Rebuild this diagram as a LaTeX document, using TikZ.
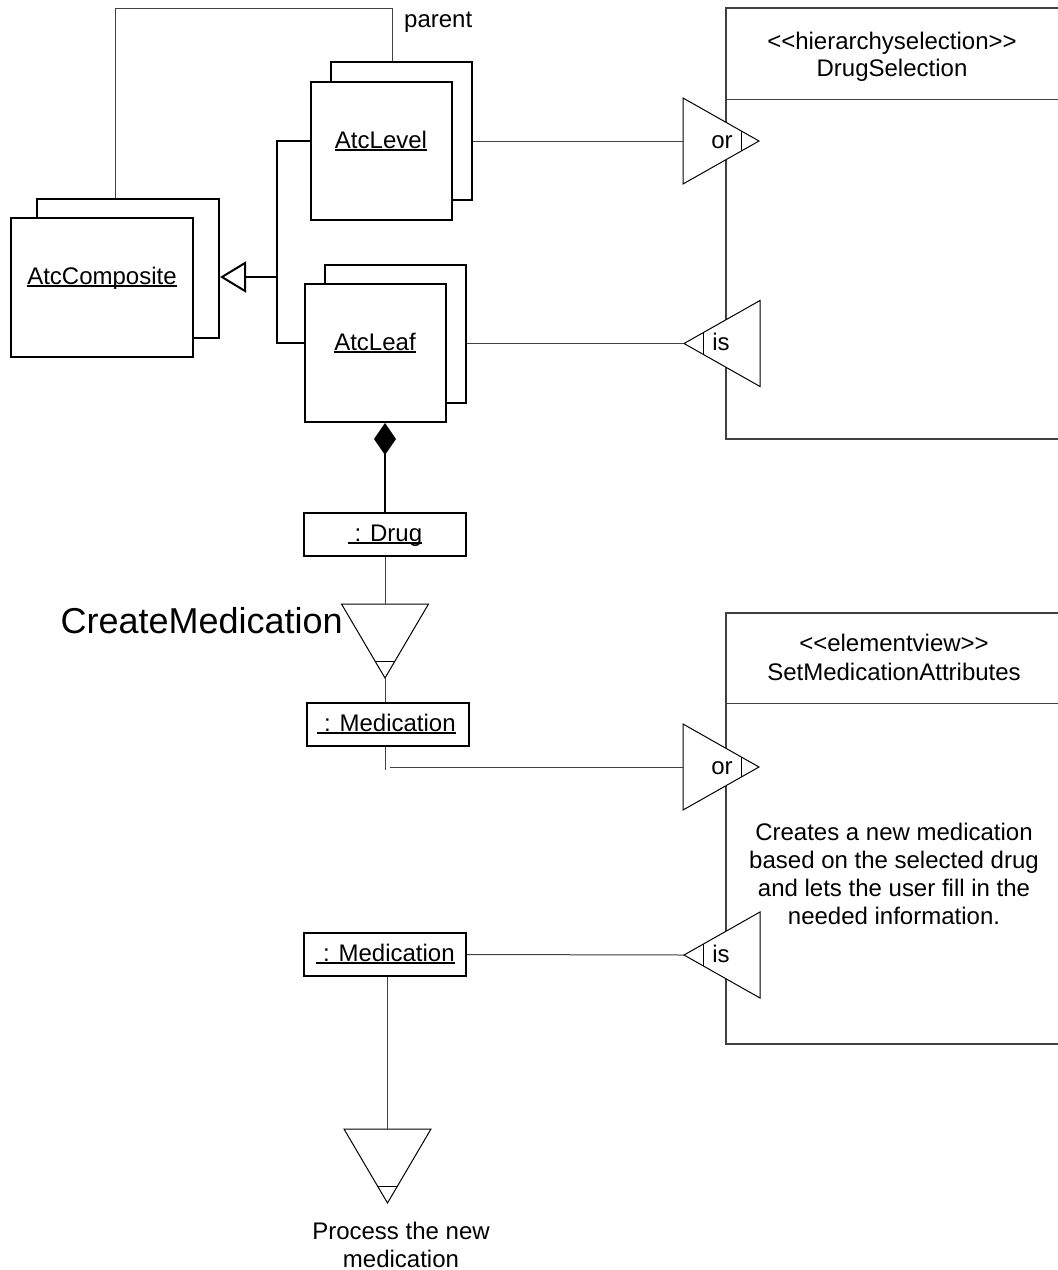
\documentclass[tikz,border=0pt]{standalone}
\usepackage{fontspec}
\setmainfont{Liberation Sans}
\usetikzlibrary{arrows.meta,calc}

% underline at a fixed depth below the baseline (crosses descenders)
\newcommand\ulin[1]{\setbox0=\hbox{#1}\rlap{\vrule height -1.4pt depth 2.6pt width \wd0}\box0}
% stereotype brackets written as two separate characters
\newcommand\stl{<\kern0pt<}
\newcommand\str{>\kern0pt>}

\tikzset{
  every node/.style={font=\fontsize{24}{28}\selectfont, inner sep=0pt, text=black},
  cls/.style={draw=black, line width=2pt, fill=white, minimum width=141pt, minimum height=138pt},
  obj/.style={draw=black, line width=2pt, fill=white, minimum width=162pt, minimum height=43pt},
  viewbox/.style={draw=black!75, line width=1.2pt, minimum width=336pt},
  conn/.style={draw=black!75, line width=1pt},
  heavy/.style={draw=black, line width=2pt},
  gate/.style={draw=black, line width=1pt, fill=white, line join=miter},
  gateline/.style={draw=black, line width=1pt},
  % "or" gate: flat side on the left, tip to the right
  pics/ortri/.style={code={
    \draw[gate] (0,-43) -- (76,0) -- (0,43) -- cycle;
    \draw[gateline] (58,-10.2) -- (58,10.2);
    \coordinate (-in) at (0,0);
    \node[anchor=base] (-lbl) at (39,7) {or};
  }},
  % "is" gate: tip on the left, flat side to the right
  pics/istri/.style={code={
    \draw[gate] (0,0) -- (76,-43) -- (76,43) -- cycle;
    \draw[gateline] (19,-10.75) -- (19,10.75);
    \coordinate (-tip) at (0,0);
    \node[anchor=base] (-lbl) at (37,7) {is};
  }},
  % downward triangle (operation)
  pics/downtri/.style={code={
    \draw[gate] (-43.5,0) -- (43.5,0) -- (0,74) -- cycle;
    \draw[gateline] (-10,57) -- (10,57);
    \coordinate (-top) at (0,0);
    \coordinate (-apex) at (0,74);
  }},
}

\begin{document}
\begin{tikzpicture}[x=1pt,y=-1pt]
\useasboundingbox (0,0) rectangle (1058,1270);

% ---- view boxes on the right ----
\node[viewbox, minimum height=431pt] (ds) at (894,223.5) {};
\draw[viewbox] ($(ds.north west)+(0,92)$) -- ($(ds.north east)+(0,92)$);
\node[anchor=base] (dsS) at (892,49) {\stl hierarchyselection\str};
\node[anchor=base] (dsN) at (892,76) {DrugSelection};

\node[viewbox, minimum height=431pt] (sma) at (894,828.5) {};
\draw[viewbox] ($(sma.north west)+(0,91)$) -- ($(sma.north east)+(0,91)$);
\node[anchor=base] (smaS) at (894,651) {\stl elementview\str};
\node[anchor=base] (smaN) at (894,680) {SetMedicationAttributes};
\node[align=center] (desc) at (894,873.5) {Creates a new medication\\based on the selected drug\\and lets the user fill in the\\needed information.};

% ---- class boxes (stacked, multi-object) ----
\node[cls, minimum width=182pt, minimum height=139pt] (compB) at (128,268.5) {};
\node[cls, minimum width=182pt, minimum height=139pt] (compF) at (102,287.5) {};
\node[anchor=base] (compT) at (102,284) {\ulin{AtcComposite}};

\node[cls] (levB) at (401.5,131) {};
\node[cls] (levF) at (381.5,151) {};
\node[anchor=base] (levT) at (381,148) {\ulin{AtcLevel}};

\node[cls] (leafB) at (395.5,333.5) {};
\node[cls] (leafF) at (375.5,353) {};
\node[anchor=base] (leafT) at (375,350) {\ulin{AtcLeaf}};

% ---- object boxes ----
\node[obj] (drug) at (385,534.5) {};
\node[anchor=base] (drugT) at (385,541) {\ulin{\ : Drug}};

\node[obj] (med1) at (388,724.5) {};
\node[anchor=base] (med1T) at (386.5,731) {\ulin{\ : Medication}};

\node[obj] (med2) at (385,954.5) {};
\node[anchor=base] (med2T) at (385.5,961) {\ulin{\ : Medication}};

% ---- parent self-association ----
\coordinate (pA) at (115,8);
\coordinate (pB) at (392,8);
\draw[conn] (compB.north -| pA) -- (pA) -- (pB) -- (levB.north -| pB);
\node[anchor=base west] (parentT) at (404,27) {parent};

% ---- generalization ----
\coordinate (gJ) at (276.5,277);
\coordinate (gTop) at (276.5,141);
\coordinate (gBot) at (276.5,343);
\draw[heavy] (levF.west |- gTop) -- (gTop) -- (gBot) -- (leafF.west |- gBot);
\draw[heavy, -{Triangle[open, length=26pt, width=31pt]}] (gJ) -- (gJ -| compB.east);

% ---- composition ----
\draw[heavy, -{Diamond[length=32pt, width=22pt]}] (drug.north) -- (drug.north |- leafF.south);

% ---- gates and operations ----
\pic (or1) at (683,141) {ortri};
\pic (is1) at (684,343.5) {istri};
\pic (or2) at (683,767) {ortri};
\pic (is2) at (684,955) {istri};
\pic (cm) at (385,604) {downtri};
\pic (pt) at (387.5,1129) {downtri};

\draw[conn] (levB.east |- or1-in) -- (or1-in);
\draw[conn] (leafB.east |- is1-tip) -- (is1-tip);

\draw[conn] (drug.south) -- (cm-top);
\draw[conn] (cm-apex) -- (med1.north -| cm-apex);
\node[anchor=base east, font=\fontsize{36}{40}\selectfont] (cmT) at (343,633) {CreateMedication};

\coordinate (stub) at (385,770);
\draw[conn] (med1.south -| stub) -- (stub);
\coordinate (hStart) at (390,767);
\draw[conn] (hStart) -- (or2-in);

\draw[conn] (med2.east) -- (is2-tip);
\draw[conn] (med2.south -| pt-top) -- (pt-top);
\node[align=center] (ptT) at (401,1244.5) {Process the new\\medication};

\end{tikzpicture}
\end{document}
